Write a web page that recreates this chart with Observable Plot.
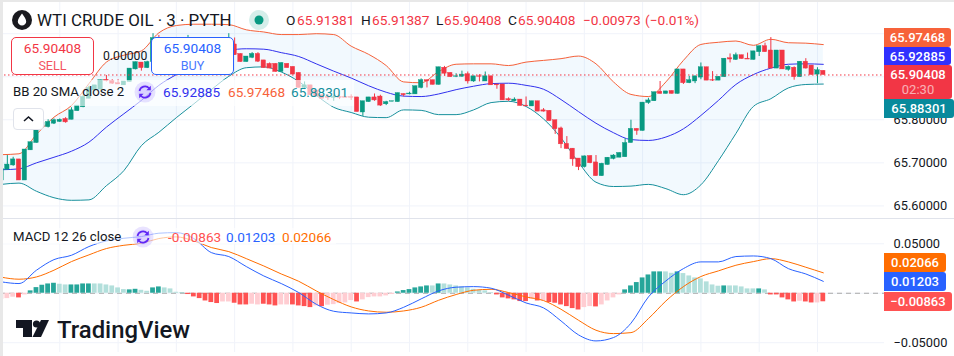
<!DOCTYPE html>
<html><head><meta charset="utf-8">
<style>
html,body{margin:0;padding:0;background:#fff;}
#chart{position:relative;width:954px;height:356px;overflow:hidden;background:#fff;font-family:Roboto,sans-serif;color:#131722;}
#chart>svg,.pane{position:absolute;left:0;}
.t{position:absolute;white-space:nowrap;line-height:16px;}
.tag{position:absolute;left:884px;color:#fff;font-size:13px;font-weight:500;text-align:center;box-sizing:border-box;padding-top:2px;line-height:15px;border-radius:0 3px 3px 0;}
.box{position:absolute;background:#fff;box-sizing:border-box;border-radius:5px;text-align:center;font-size:13.7px;line-height:17px;padding-top:2px;}
</style></head><body>
<div id="chart"></div>
<script src="https://cdn.jsdelivr.net/npm/d3@7"></script>
<script src="https://cdn.jsdelivr.net/npm/@observablehq/plot@0.6"></script>
<script>
const candleOpen=[65.659,65.684,65.694,65.708,65.659,65.729,65.746,65.783,65.783,65.791,
65.795,65.802,65.800,65.820,65.829,65.849,65.868,65.870,65.893,65.890,
65.885,65.880,65.888,65.917,65.933,65.920,65.934,65.990,65.969,65.981,
65.955,65.969,65.950,65.973,65.961,65.981,65.947,65.934,65.961,65.946,
65.975,65.953,65.934,65.944,65.953,65.938,65.930,65.930,65.911,65.930,
65.923,65.909,65.874,65.880,65.868,65.857,65.853,65.851,65.853,65.853,
65.853,65.852,65.817,65.841,65.852,65.854,65.836,65.842,65.841,65.860,
65.859,65.859,65.874,65.892,65.892,65.881,65.921,65.909,65.900,65.900,
65.906,65.889,65.901,65.889,65.901,65.882,65.882,65.848,65.843,65.847,
65.833,65.831,65.843,65.822,65.821,65.799,65.780,65.744,65.733,65.710,
65.690,65.716,65.701,65.669,65.695,65.709,65.712,65.713,65.746,65.779,
65.774,65.839,65.843,65.865,65.860,65.867,65.860,65.917,65.885,65.889,
65.898,65.922,65.892,65.891,65.899,65.943,65.939,65.950,65.942,65.939,
65.957,65.971,65.961,65.919,65.961,65.916,65.921,65.899,65.935,65.926,
65.905,65.91381];
const candleClose=[65.686,65.696,65.708,65.659,65.731,65.748,65.785,65.792,65.795,65.799,
65.800,65.794,65.822,65.833,65.853,65.874,65.880,65.892,65.890,65.884,
65.882,65.889,65.919,65.934,65.920,65.934,65.990,65.973,65.981,65.957,
65.969,65.950,65.973,65.961,65.981,65.946,65.934,65.961,65.946,65.975,
65.950,65.934,65.947,65.953,65.935,65.920,65.919,65.911,65.932,65.920,
65.905,65.874,65.880,65.857,65.854,65.849,65.851,65.853,65.851,65.851,
65.851,65.818,65.843,65.852,65.845,65.833,65.841,65.843,65.862,65.857,
65.861,65.878,65.892,65.889,65.881,65.922,65.907,65.899,65.901,65.905,
65.889,65.901,65.900,65.901,65.880,65.880,65.845,65.845,65.847,65.832,
65.831,65.843,65.819,65.819,65.797,65.778,65.743,65.732,65.708,65.690,
65.715,65.699,65.669,65.698,65.712,65.717,65.723,65.746,65.779,65.774,
65.840,65.845,65.864,65.860,65.866,65.860,65.917,65.885,65.892,65.901,
65.922,65.891,65.891,65.900,65.942,65.940,65.950,65.941,65.940,65.959,
65.971,65.957,65.919,65.961,65.917,65.923,65.899,65.935,65.919,65.904,
65.915,65.90408];
const candleHigh=[65.686,65.717,65.713,65.708,65.731,65.748,65.789,65.792,65.800,65.802,
65.802,65.805,65.828,65.833,65.856,65.878,65.880,65.892,65.903,65.893,
65.893,65.889,65.919,65.934,65.933,65.936,66.000,65.996,65.985,65.984,
65.972,65.973,65.996,65.976,65.984,65.984,65.950,65.964,65.965,66.000,
65.990,65.953,65.947,65.956,65.956,65.938,65.932,65.930,65.932,65.930,
65.923,65.909,65.888,65.880,65.868,65.857,65.859,65.857,65.857,65.853,
65.858,65.852,65.843,65.852,65.860,65.857,65.843,65.843,65.862,65.860,
65.864,65.878,65.895,65.892,65.892,65.922,65.924,65.909,65.907,65.913,
65.911,65.901,65.905,65.911,65.901,65.882,65.882,65.851,65.851,65.847,
65.853,65.843,65.843,65.826,65.821,65.799,65.783,65.761,65.733,65.710,
65.716,65.716,65.717,65.699,65.712,65.719,65.723,65.756,65.799,65.779,
65.840,65.850,65.864,65.889,65.866,65.867,65.917,65.917,65.901,65.901,
65.932,65.922,65.912,65.900,65.942,65.953,65.955,65.950,65.955,65.959,
65.971,65.978,65.991,65.961,65.961,65.925,65.923,65.935,65.942,65.926,
65.921,65.91387];
const candleLow=[65.659,65.684,65.692,65.659,65.659,65.729,65.746,65.783,65.781,65.789,
65.794,65.792,65.800,65.820,65.828,65.849,65.868,65.870,65.888,65.882,
65.882,65.880,65.888,65.916,65.913,65.919,65.934,65.970,65.966,65.954,
65.952,65.947,65.948,65.958,65.958,65.943,65.931,65.931,65.943,65.943,
65.950,65.934,65.934,65.942,65.933,65.920,65.919,65.911,65.911,65.920,
65.905,65.874,65.870,65.857,65.854,65.849,65.845,65.843,65.847,65.851,
65.845,65.818,65.808,65.841,65.843,65.831,65.833,65.842,65.841,65.853,
65.858,65.859,65.872,65.874,65.881,65.881,65.901,65.899,65.898,65.899,
65.883,65.887,65.888,65.889,65.880,65.871,65.845,65.843,65.842,65.832,
65.831,65.831,65.819,65.818,65.797,65.766,65.733,65.732,65.692,65.682,
65.688,65.698,65.669,65.669,65.695,65.707,65.712,65.713,65.746,65.764,
65.774,65.836,65.843,65.860,65.860,65.860,65.860,65.882,65.884,65.884,
65.893,65.891,65.889,65.891,65.899,65.932,65.938,65.941,65.940,65.939,
65.947,65.957,65.919,65.919,65.917,65.913,65.892,65.899,65.918,65.904,
65.884,65.90408];
// Bollinger bands, read every third bar
const bbUpper=[65.719,65.721,65.766,65.806,65.833,65.884,65.934,65.950,65.960,66.002,66.019,66.022,66.022,66.021,66.009,66.004,65.998,65.998,66.000,65.998,65.971,65.952,65.926,65.888,65.886,65.912,65.929,65.930,65.930,65.926,65.934,65.938,65.942,65.948,65.930,65.888,65.859,65.854,65.888,65.938,65.975,65.980,65.983,65.973,65.987,65.979,65.978,65.97468];
const bbMiddle=[65.684,65.686,65.700,65.713,65.727,65.748,65.783,65.814,65.845,65.880,65.905,65.926,65.944,65.961,65.965,65.964,65.956,65.947,65.930,65.913,65.897,65.879,65.864,65.855,65.854,65.860,65.870,65.878,65.884,65.885,65.880,65.871,65.847,65.819,65.792,65.770,65.754,65.752,65.760,65.779,65.810,65.845,65.882,65.905,65.920,65.929,65.930,65.92885];
const bbLower=[65.650,65.653,65.634,65.619,65.613,65.614,65.647,65.682,65.740,65.771,65.805,65.837,65.870,65.901,65.921,65.923,65.911,65.889,65.857,65.829,65.817,65.806,65.805,65.823,65.822,65.812,65.812,65.823,65.840,65.843,65.831,65.802,65.758,65.701,65.655,65.645,65.646,65.650,65.640,65.626,65.649,65.705,65.768,65.831,65.849,65.874,65.882,65.88301];
const macdHist=[-.0061,-.0054,-.0040,-.0047,-.0017,.0024,.0057,.0081,.0094,.0101,
.0091,.0084,.0084,.0084,.0094,.0094,.0094,.0094,.0084,.0074,
.0054,.0037,.0034,.0040,.0030,.0020,.0054,.0064,.0054,.0044,
.0010,.0003,-.0013,-.0037,-.0054,-.0078,-.0094,-.0104,-.0088,-.0088,
-.0101,-.0118,-.0118,-.0111,-.0118,-.0111,-.0118,-.0128,-.0118,-.0118,
-.0118,-.0128,-.0135,-.0145,-.0128,-.0135,-.0121,-.0115,-.0104,-.0098,
-.0074,-.0088,-.0067,-.0044,-.0037,-.0037,-.0027,-.0013,.0013,.0027,
.0037,.0054,.0064,.0074,.0074,.0094,.0094,.0084,.0074,.0064,
.0054,.0040,.0030,.0024,.0007,-.0017,-.0047,-.0057,-.0067,-.0084,
-.0084,-.0061,-.0078,-.0078,-.0094,-.0101,-.0118,-.0135,-.0155,-.0169,
-.0145,-.0135,-.0138,-.0118,-.0078,-.0047,-.0017,.0034,.0074,.0108,
.0155,.0185,.0216,.0216,.0216,.0202,.0216,.0199,.0175,.0155,
.0145,.0115,.0084,.0071,.0074,.0074,.0074,.0064,.0044,.0044,
.0044,.0034,-.0017,-.0017,-.0047,-.0067,-.0088,-.0081,-.0088,-.0098,
-.0098,-.00863];
const histShade="LLLDLDDDDD"+"LLDDDDLLLL"+"LLDDLLDDLL"+"LDDDDDDDLL"+"DDDLLDDDLL"+"DDDDLDLLLL"+"LDLLLLLLDD"+"DDDDLDLLLL"+"LLLLLDDDDD"+"DLDLDDDDDD"+"LLDLLLLDDD"+"DDDDLLDLLL"+"LLLLDLLLLL"+"DLDDDDDLDD"+"LD";
// MACD and signal lines, read every third bar
const macdLine=[.0115,.0098,.0233,.0340,.0384,.0472,.0529,.0556,.0573,.0607,.0613,.0553,.0411,.0371,.0270,.0175,.0098,.0007,-.0111,-.0182,-.0199,-.0209,-.0199,-.0142,-.0057,.0024,.0061,.0067,.0051,-.0020,-.0098,-.0148,-.0280,-.0421,-.0482,-.0448,-.0303,-.0037,.0125,.0249,.0317,.0317,.0371,.0377,.0350,.0249,.0195,.01203];
const signalLine=[.0162,.0142,.0165,.0233,.0320,.0388,.0452,.0485,.0506,.0553,.0570,.0529,.0462,.0421,.0350,.0276,.0195,.0121,.0024,-.0064,-.0138,-.0179,-.0192,-.0179,-.0142,-.0071,-.0013,.0030,.0040,.0007,-.0037,-.0074,-.0162,-.0273,-.0374,-.0408,-.0398,-.0256,-.0078,.0067,.0169,.0226,.0283,.0320,.0350,.0317,.0263,.02066];
const priceTicks=[65.6,65.7,65.8,65.9,66.0];
const macdTicks=[-0.05,0,0.05];
const lastClose=65.90408;
const timeTicks=d3.range(0,150,10);

const candles=candleOpen.map((o,i)=>({i,o,c:candleClose[i],h:candleHigh[i],l:candleLow[i],col:candleClose[i]>=o?"#089981":"#f23645"}));
const bands=bbUpper.map((u,k)=>({i:k*3,u,m:bbMiddle[k],d:bbLower[k]}));
const hist=macdHist.map((v,i)=>({i,v,col:v>=0?(histShade[i]==="D"?"#26a69a":"#b2dfdb"):(histShade[i]==="D"?"#ff5252":"#ffcdd2")}));
const macdData=macdLine.map((m,k)=>({i:k*3,m,s:signalLine[k]}));
const xScale={domain:[0,151.5],range:[1,884],axis:null};
const W=.38;
const styleBase={fontFamily:"Roboto,sans-serif",fontSize:"12.8px",background:"transparent",color:"#131722",position:"absolute",left:"0"};

const priceChart=Plot.plot({width:954,height:218,marginLeft:0,marginRight:70,marginTop:2,marginBottom:0,
  x:xScale,
  y:{domain:[65.6,66.0],range:[205.4,33.2],axis:null},
  style:{...styleBase,top:"0"},
  marks:[
    Plot.gridX(timeTicks,{stroke:"#f0f3fa",strokeOpacity:1}),
    Plot.gridY(priceTicks,{stroke:"#f0f3fa",strokeOpacity:1}),
    Plot.areaY(bands,{x:"i",y1:"u",y2:"d",fill:"#2196f3",fillOpacity:.06,curve:"monotone-x"}),
    Plot.lineY(bands,{x:"i",y:"u",stroke:"#f7623a",strokeWidth:1,curve:"monotone-x"}),
    Plot.lineY(bands,{x:"i",y:"m",stroke:"#3131ee",strokeWidth:1,curve:"monotone-x"}),
    Plot.lineY(bands,{x:"i",y:"d",stroke:"#158f9c",strokeWidth:1,curve:"monotone-x"}),
    Plot.ruleX(candles,{x:"i",y1:"l",y2:"h",stroke:"col",strokeWidth:1}),
    Plot.rect(candles,{x1:d=>d.i-W,x2:d=>d.i+W,y1:"o",y2:"c",fill:"col",stroke:"col",strokeWidth:.4}),
    Plot.ruleY([lastClose],{stroke:"#f23645",strokeDasharray:"1.5 2.5",strokeWidth:1}),
    Plot.axisY({anchor:"right",ticks:[65.6,65.7,65.8],tickSize:0,tickPadding:9,label:null,tickFormat:d=>d.toFixed(5)})
  ]});

const macdChart=Plot.plot({width:954,height:134,marginLeft:0,marginRight:70,marginTop:1,marginBottom:0,
  x:xScale,
  y:{domain:[-0.05,0.05],range:[124.2,25.3],axis:null},
  style:{...styleBase,top:"218px"},
  marks:[
    Plot.gridX(timeTicks,{stroke:"#f0f3fa",strokeOpacity:1}),
    Plot.gridY(macdTicks,{stroke:"#f0f3fa",strokeOpacity:1}),
    Plot.ruleY([0],{stroke:"#a8a8a8",strokeDasharray:"5 4",strokeWidth:1}),
    Plot.rect(hist,{x1:d=>d.i-W-.03,x2:d=>d.i+W+.03,y1:()=>0,y2:"v",fill:"col"}),
    Plot.lineY(macdData,{x:"i",y:"s",stroke:"#ff6d00",strokeWidth:1,curve:"monotone-x"}),
    Plot.lineY(macdData,{x:"i",y:"m",stroke:"#2962ff",strokeWidth:1,curve:"monotone-x"}),
    Plot.axisY({anchor:"right",ticks:[-0.05,0.05],tickSize:0,tickPadding:9,label:null,tickFormat:d=>d.toFixed(5).replace("-","\u2212")})
  ]});

const root=document.getElementById("chart");
root.append(priceChart,macdChart);
const html=(s)=>root.insertAdjacentHTML("beforeend",s);
const text=(x,y,s,color,size,extra="")=>html(`<span class="t" style="left:${x}px;top:${y-8}px;color:${color};font-size:${size}px;${extra}">${s}</span>`);
const cycle=(cx,cy)=>html(`<svg width="22" height="22" viewBox="-11 -11 22 22" style="position:absolute;left:${cx-11}px;top:${cy-11}px"><circle r="10.5" fill="#7e57ff" fill-opacity=".17"/><circle r="7.5" fill="#7e57ff" fill-opacity=".1"/><path d="M-5.5 -1A5.6 5.6 0 0 1 4.2 -3.7M5.5 1A5.6 5.6 0 0 1 -4.2 3.7" fill="none" stroke="#5f27f5" stroke-width="1.6"/><path d="M5.8 -6.2V-1.8H1.4ZM-5.8 6.2V1.8H-1.4Z" fill="#5f27f5"/></svg>`);

// separator
html(`<div style="position:absolute;left:0;top:217.6px;width:954px;height:1.4px;background:#e0e3eb"></div>`);

// translucent legend panels
html(`<div style="position:absolute;left:3px;top:80px;width:351px;height:26px;background:rgba(255,255,255,.62)"></div>`);
html(`<div style="position:absolute;left:3px;top:228px;width:333px;height:16px;background:rgba(255,255,255,.62)"></div>`);

// title row
html(`<svg width="22" height="22" viewBox="-11 -11 22 22" style="position:absolute;left:11px;top:9px"><circle r="10" fill="#1a1a1f"/><path d="M0 -6.6C2.2 -3.2 4.2 -1.2 4.2 1.4A4.2 4.2 0 0 1 -4.2 1.4C-4.2 -1.2 -2.2 -3.2 0 -6.6Z" fill="#fff"/></svg>`);
text(37,20,"WTI CRUDE OIL · 3 · PYTH","#131722",16.9);
html(`<svg width="22" height="22" viewBox="-11 -11 22 22" style="position:absolute;left:248px;top:9px"><circle r="10" fill="#089981" fill-opacity=".17"/><circle r="4.5" fill="#089981"/></svg>`);
const red="#f23645";
text(286,20,"O","#131722",13.7); text(297,20,"65.91381",red,13.7);
text(361,20,"H","#131722",13.7); text(372,20,"65.91387",red,13.7);
text(436,20,"L","#131722",13.7); text(444,20,"65.90408",red,13.7);
text(508,20,"C","#131722",13.7); text(518,20,"65.90408",red,13.7);
text(583,20,"\u22120.00973",red,13.7); text(645,20,"(\u22120.01%)",red,13.7);

// buttons
html(`<div class="box" style="left:11px;top:37px;width:83px;height:38px;border:1px solid ${red};"><div style="color:${red}">65.90408</div><div style="color:${red};font-size:12.6px;opacity:.85">SELL</div></div>`);
html(`<div class="box" style="left:151px;top:37px;width:83px;height:38px;border:1px solid #2962ff;"><div style="color:#2962ff">65.90408</div><div style="color:#2962ff;font-size:12.6px;opacity:.85">BUY</div></div>`);
text(103,56,"0.00000","#131722",12.2);

// legends
text(13,92,"BB 20 SMA close 2","#131722",13.2);
cycle(145,92);
text(163,92,"65.92885","#3131ee",13.6);
text(228,92,"65.97468","#f7623a",13.6);
text(291,92,"65.88301","#158f9c",13.6);
html(`<div style="position:absolute;left:13px;top:108px;width:31px;height:22px;box-sizing:border-box;background:#fff;border:1px solid #e0e3eb;border-radius:4px"><svg width="29" height="20" style="position:absolute;left:0;top:0"><path d="M10 12L14.5 8L19 12" fill="none" stroke="#131722" stroke-width="1.6"/></svg></div>`);
text(13,237,"MACD 12 26 close","#131722",13.2);
cycle(143,237);
text(168,237,"-0.00863","#ff5252",13.6);
text(226,237,"0.01203","#2962ff",13.6);
text(282,237,"0.02066","#ff6d00",13.6);

// price tags
const tag=(y,h,bg,s,w=70)=>html(`<div class="tag" style="top:${y}px;height:${h}px;width:${w}px;background:${bg}">${s}</div>`);
tag(28,19,"#f7623a","65.97468",67);
tag(47,18,"#3030ff","65.92885",67);
tag(65,34,"#f23645",`65.90408<br><span style="opacity:.6;font-weight:400">02:30</span>`,68);
tag(99,19,"#088a9c","65.88301",70);
tag(253,19,"#ff6d00","0.02066",62);
tag(272,19,"#2962ff","0.01203",62);
tag(292,19,"#ff5252","\u22120.00863",68);

// TradingView attribution
html(`<svg width="36" height="20" viewBox="0 0 36 20" style="position:absolute;left:15px;top:319px"><path d="M1 1H17V18H8V9H1Z" fill="#131722"/><circle cx="21.5" cy="5" r="3.6" fill="#131722"/><path d="M26 1H34L26 18H17.5Z" fill="#131722"/></svg>`);
text(57,330,"TradingView","#131722",23.9,"font-weight:500;line-height:24px;margin-top:-4px;");

// window chrome above everything
html(`<div style="position:absolute;left:0;top:0;width:954px;height:2px;background:#e8e8e8"></div>`);
html(`<div style="position:absolute;left:0;top:0;width:3px;height:356px;background:#e8e8e8"></div>`);
</script>
</body></html>
